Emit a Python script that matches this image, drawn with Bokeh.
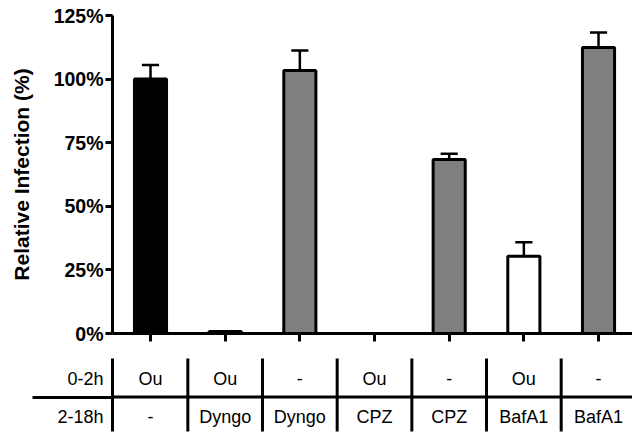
from bokeh.plotting import figure
from bokeh.models import Range1d, FixedTicker, ColumnDataSource, CustomJSTickFormatter
from bokeh.layouts import column
from bokeh.core.properties import value
from bokeh.embed import file_html
from bokeh.resources import INLINE

# ---- data ----
row1_labels = ["Ou", "Ou", "-", "Ou", "-", "Ou", "-"]                    # 0-2h
row2_labels = ["-", "Dyngo", "Dyngo", "CPZ", "CPZ", "BafA1", "BafA1"]    # 2-18h
row_names = ["0-2h", "2-18h"]
values = [100.0, 0.8, 103.4, 0.0, 68.4, 30.4, 112.4]
errors = [5.5, 0.0, 7.8, 0.0, 2.3, 5.5, 5.9]
fills = ["#000000", "#ffffff", "#7f7f7f", "#ffffff", "#7f7f7f", "#ffffff", "#7f7f7f"]
y_ticks = [0, 25, 50, 75, 100, 125]

FONT = "Liberation Sans"
n = len(values)
xs = list(range(n))

W = 632
FRAME_L = 112
PX = 74.67          # pixels per category
X0 = 150            # screen x of first category
x_range = Range1d(-(X0 - FRAME_L) / PX, (W - X0) / PX)

# ---- bar chart ----
p = figure(width=W, height=350, output_backend="svg", toolbar_location=None,
           x_range=x_range, y_range=Range1d(0, 125),
           min_border_left=FRAME_L, min_border_right=0, min_border_top=15, min_border_bottom=17)
p.outline_line_color = None
p.xgrid.grid_line_color = None
p.ygrid.grid_line_color = None

src = ColumnDataSource(dict(x=xs, top=values, fill=fills))
err_x = [x for x, e in zip(xs, errors) if e > 0]
err_lo = [v for v, e in zip(values, errors) if e > 0]
err_hi = [v + e for v, e in zip(values, errors) if e > 0]
p.segment(x0=err_x, x1=err_x, y0=err_lo, y1=err_hi, line_color="black", line_width=2.5)
p.segment(x0=[x - 0.115 for x in err_x], x1=[x + 0.115 for x in err_x], y0=err_hi, y1=err_hi,
          line_color="black", line_width=2.5)
p.vbar(x="x", top="top", bottom=0, width=0.43, source=src, fill_color="fill",
       line_color="black", line_width=3)

yax = p.yaxis[0]
yax.ticker = FixedTicker(ticks=y_ticks)
yax.formatter = CustomJSTickFormatter(code="return tick + '%';")
yax.axis_line_width = 3
yax.major_tick_line_width = 3
yax.major_tick_out = 7
yax.major_tick_in = 0
yax.minor_tick_line_color = None
yax.major_label_text_font = FONT
yax.major_label_text_font_style = "bold"
yax.major_label_text_font_size = "19.5px"
yax.major_label_text_color = "black"
yax.major_label_standoff = 2
yax.axis_label = "Relative Infection (%)"
yax.axis_label_text_font = FONT
yax.axis_label_text_font_style = "bold"
yax.axis_label_text_font_size = "21px"
yax.axis_label_text_color = "black"
yax.axis_label_standoff = 18

xax = p.xaxis[0]
xax.ticker = FixedTicker(ticks=xs)
xax.formatter = CustomJSTickFormatter(code="return '';")
xax.axis_line_width = 3
xax.major_tick_line_width = 3
xax.major_tick_out = 8
xax.major_tick_in = 0
xax.minor_tick_line_color = None
xax.major_label_standoff = 0

# ---- condition table (its frame lines up with the chart frame) ----
ROW_Y = [28, 66]       # px from top of table strip
HLINE_Y = 46.5
VL_TOP, VL_BOT = 8, 81
HL_OUT = FRAME_L - 32
t = figure(width=W, height=88, output_backend="svg", toolbar_location=None,
           x_range=x_range, y_range=Range1d(88, 0), x_axis_type=None,
           min_border_left=FRAME_L, min_border_right=0, min_border_top=0, min_border_bottom=0)
t.outline_line_color = None
t.xgrid.grid_line_color = None
t.ygrid.grid_line_color = None

# row names as the table's left axis; its line is the first column rule,
# its minor tick is the left part of the row divider
tax = t.yaxis[0]
tax.ticker = FixedTicker(ticks=ROW_Y, minor_ticks=[HLINE_Y])
tax.major_label_overrides = {ROW_Y[0]: row_names[0], ROW_Y[1]: row_names[1]}
tax.bounds = (VL_TOP, VL_BOT)
tax.axis_line_width = 3
tax.major_tick_line_color = None
tax.major_tick_out = 0
tax.major_tick_in = 0
tax.minor_tick_out = HL_OUT
tax.minor_tick_in = 0
tax.minor_tick_line_width = 3
tax.major_label_standoff = 9 - HL_OUT
tax.major_label_text_font = FONT
tax.major_label_text_font_size = "18px"
tax.major_label_text_color = "black"

t.text(x=xs, y=[ROW_Y[0]] * n, text=row1_labels, text_align="center", text_baseline="middle",
       text_font=value(FONT), text_font_size="18px", text_color="black")
t.text(x=xs, y=[ROW_Y[1]] * n, text=row2_labels, text_align="center", text_baseline="middle",
       text_font=value(FONT), text_font_size="18px", text_color="black")
t.segment(x0=[x_range.start], x1=[x_range.end + 0.2], y0=[HLINE_Y], y1=[HLINE_Y],
          line_color="black", line_width=3)
vx = [i + 0.5 for i in range(n - 1)]
t.segment(x0=vx, x1=vx, y0=[VL_TOP] * len(vx), y1=[VL_BOT] * len(vx),
          line_color="black", line_width=3)

layout = column(p, t, spacing=0)
open("out.html", "w").write(file_html(layout, INLINE))
